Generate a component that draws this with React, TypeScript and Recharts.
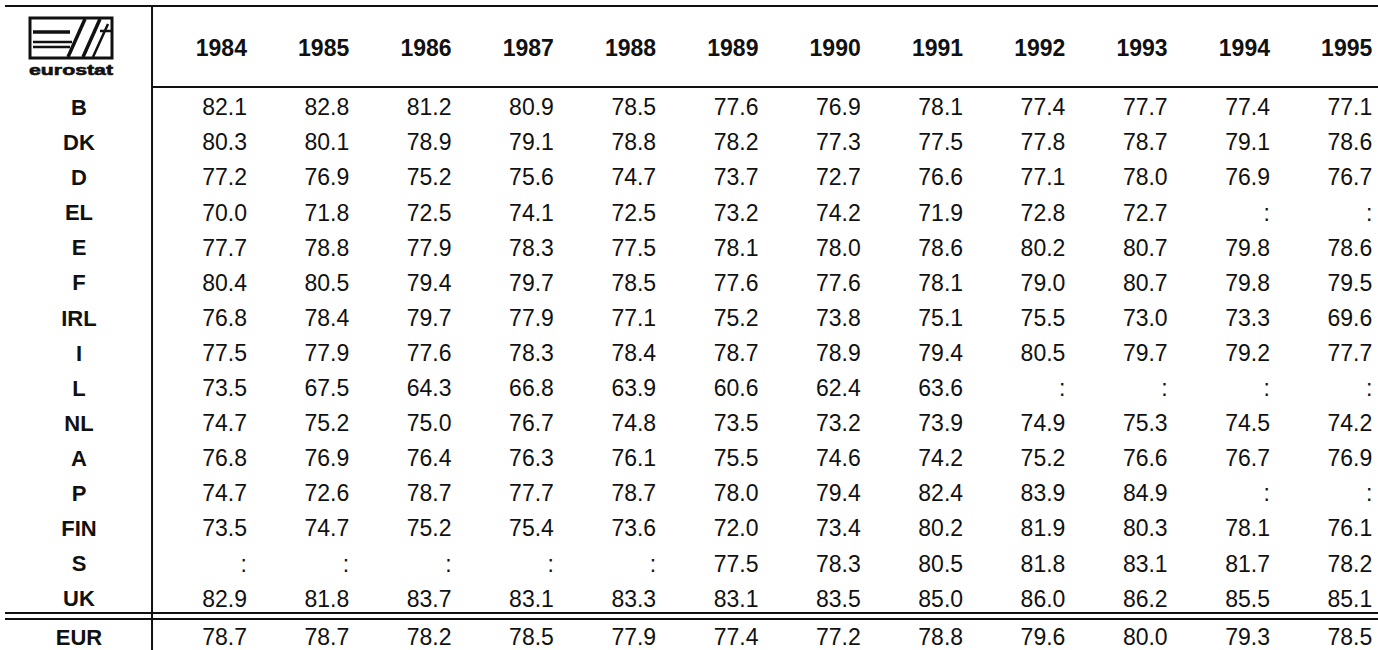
import { ScatterChart, Scatter, XAxis, YAxis, ReferenceLine, Customized } from "recharts";

const years = ["1984", "1985", "1986", "1987", "1988", "1989", "1990", "1991", "1992", "1993", "1994", "1995"];
const countries = ["B", "DK", "D", "EL", "E", "F", "IRL", "I", "L", "NL", "A", "P", "FIN", "S", "UK", "EUR"];

// null = not available (":")
const vB = [82.1, 82.8, 81.2, 80.9, 78.5, 77.6, 76.9, 78.1, 77.4, 77.7, 77.4, 77.1];
const vDK = [80.3, 80.1, 78.9, 79.1, 78.8, 78.2, 77.3, 77.5, 77.8, 78.7, 79.1, 78.6];
const vD = [77.2, 76.9, 75.2, 75.6, 74.7, 73.7, 72.7, 76.6, 77.1, 78.0, 76.9, 76.7];
const vEL = [70.0, 71.8, 72.5, 74.1, 72.5, 73.2, 74.2, 71.9, 72.8, 72.7, null, null];
const vE = [77.7, 78.8, 77.9, 78.3, 77.5, 78.1, 78.0, 78.6, 80.2, 80.7, 79.8, 78.6];
const vF = [80.4, 80.5, 79.4, 79.7, 78.5, 77.6, 77.6, 78.1, 79.0, 80.7, 79.8, 79.5];
const vIRL = [76.8, 78.4, 79.7, 77.9, 77.1, 75.2, 73.8, 75.1, 75.5, 73.0, 73.3, 69.6];
const vI = [77.5, 77.9, 77.6, 78.3, 78.4, 78.7, 78.9, 79.4, 80.5, 79.7, 79.2, 77.7];
const vL = [73.5, 67.5, 64.3, 66.8, 63.9, 60.6, 62.4, 63.6, null, null, null, null];
const vNL = [74.7, 75.2, 75.0, 76.7, 74.8, 73.5, 73.2, 73.9, 74.9, 75.3, 74.5, 74.2];
const vA = [76.8, 76.9, 76.4, 76.3, 76.1, 75.5, 74.6, 74.2, 75.2, 76.6, 76.7, 76.9];
const vP = [74.7, 72.6, 78.7, 77.7, 78.7, 78.0, 79.4, 82.4, 83.9, 84.9, null, null];
const vFIN = [73.5, 74.7, 75.2, 75.4, 73.6, 72.0, 73.4, 80.2, 81.9, 80.3, 78.1, 76.1];
const vS = [null, null, null, null, null, 77.5, 78.3, 80.5, 81.8, 83.1, 81.7, 78.2];
const vUK = [82.9, 81.8, 83.7, 83.1, 83.3, 83.1, 83.5, 85.0, 86.0, 86.2, 85.5, 85.1];
const vEUR = [78.7, 78.7, 78.2, 78.5, 77.9, 77.4, 77.2, 78.8, 79.6, 80.0, 79.3, 78.5];

const rowValues = [vB, vDK, vD, vEL, vE, vF, vIRL, vI, vL, vNL, vA, vP, vFIN, vS, vUK, vEUR];

// layout in axis units
const X_LO = -2.414, X_HI = 11.056;
const Y_LO = -3.048, Y_HI = 15.47;
const LABEL_COL = -1.642;
const DIVIDER_X = -0.928;
const HEADER_ROW = -1.68;
const EUR_ROW = 15.1;
const TOP_Y = -2.877, HEAD_LINE_Y = -0.569, DBL1 = 14.416, DBL2 = 14.587;
const LEFT_X = -2.365;

const rowPos = (i: number) => (i === 15 ? EUR_ROW : i);

const cells = rowValues.flatMap((vals, r) =>
  vals.map((v, c) => ({ x: c, y: rowPos(r), label: v == null ? ":" : v.toFixed(1) }))
);
const headerCells = years.map((yr, c) => ({ x: c, y: HEADER_ROW, label: yr }));
const labelCells = countries.map((code, r) => ({ x: LABEL_COL, y: rowPos(r), label: code }));

const FONT = "'Liberation Sans', Arial, Helvetica, sans-serif";
const INK = "#111";

const textShape = (anchor: "end" | "middle", bold: boolean, size: number) => (props: any) => {
  const { cx, cy, payload } = props;
  return (
    <text
      x={cx}
      y={cy}
      dy="0.36em"
      textAnchor={anchor}
      fontFamily={FONT}
      fontSize={size}
      fontWeight={bold ? 700 : 400}
      fill={INK}
    >
      {payload.label}
    </text>
  );
};

function Logo() {
  return (
    <g stroke={INK} fill="none">
      <rect x={30} y={18} width={82} height={40} strokeWidth={3} />
      <line x1={33} y1={32} x2={70} y2={32} strokeWidth={3.5} />
      <line x1={33} y1={42} x2={72} y2={42} strokeWidth={2.5} />
      <line x1={33} y1={47} x2={70} y2={47} strokeWidth={2.5} />
      <line x1={68} y1={57} x2={85} y2={19} strokeWidth={3.5} />
      <line x1={83} y1={57} x2={100} y2={19} strokeWidth={3.5} />
      <line x1={100} y1={31} x2={111} y2={31} strokeWidth={2.5} />
      <line x1={93} y1={57} x2={108} y2={24} strokeWidth={2.5} />
      <text
        x={71}
        y={75}
        textAnchor="middle"
        fontFamily={FONT}
        fontSize={15}
        fontWeight={900}
        fill={INK}
        stroke={INK}
        strokeWidth={0.6}
        textLength={84}
        lengthAdjust="spacingAndGlyphs"
      >
        eurostat
      </text>
    </g>
  );
}

export default function App() {
  return (
    <div style={{ width: 1378, height: 650, background: "#fff" }}>
      <style>{`body{margin:0;background:#fff}`}</style>
      <ScatterChart width={1378} height={650} margin={{ top: 0, right: 0, bottom: 0, left: 0 }}>
        <XAxis type="number" dataKey="x" domain={[X_LO, X_HI]} hide allowDataOverflow />
        <YAxis type="number" dataKey="y" domain={[Y_LO, Y_HI]} reversed hide allowDataOverflow />
        <ReferenceLine segment={[{ x: LEFT_X, y: TOP_Y }, { x: X_HI, y: TOP_Y }]} stroke={INK} strokeWidth={2} />
        <ReferenceLine segment={[{ x: DIVIDER_X, y: HEAD_LINE_Y }, { x: X_HI, y: HEAD_LINE_Y }]} stroke={INK} strokeWidth={2} />
        <ReferenceLine segment={[{ x: LEFT_X, y: DBL1 }, { x: X_HI, y: DBL1 }]} stroke={INK} strokeWidth={2} />
        <ReferenceLine segment={[{ x: LEFT_X, y: DBL2 }, { x: X_HI, y: DBL2 }]} stroke={INK} strokeWidth={2} />
        <ReferenceLine segment={[{ x: DIVIDER_X, y: TOP_Y }, { x: DIVIDER_X, y: Y_HI }]} stroke={INK} strokeWidth={2} />
        <Scatter data={headerCells} shape={textShape("end", true, 23)} isAnimationActive={false} />
        <Scatter data={labelCells} shape={textShape("middle", true, 22)} isAnimationActive={false} />
        <Scatter data={cells} shape={textShape("end", false, 23)} isAnimationActive={false} />
        <Customized component={Logo} />
      </ScatterChart>
    </div>
  );
}
